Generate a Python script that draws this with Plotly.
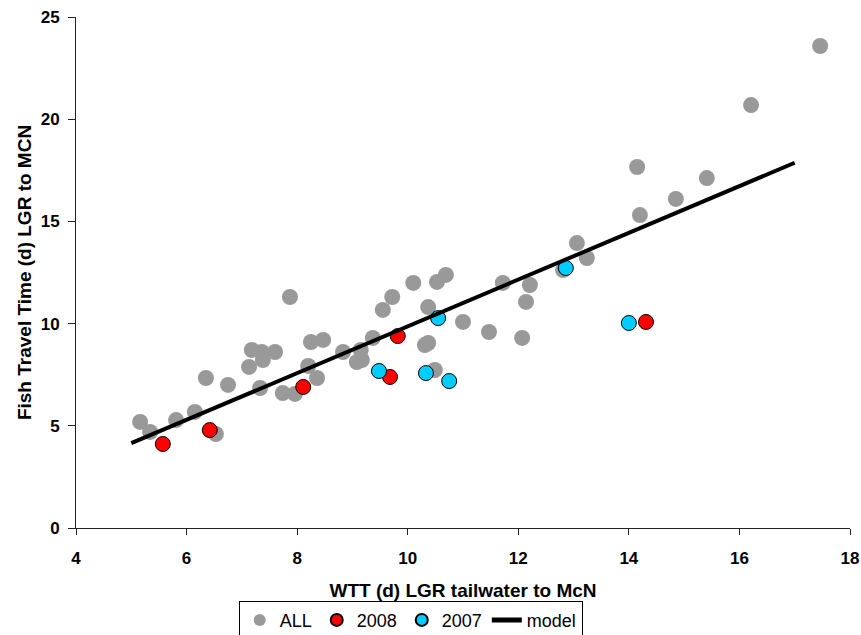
import plotly.graph_objects as go

# ALL observations
all_x = [5.16, 5.34, 5.81, 6.15, 6.35, 6.53, 6.75, 7.18, 7.36, 7.60, 7.38, 7.13, 7.33,
         7.87, 7.74, 7.96, 8.20, 8.36, 8.25, 8.47, 8.83, 9.15, 9.08, 9.17, 9.37, 9.55,
         9.72, 10.10, 10.53, 10.69, 10.37, 11.00, 11.47, 12.07, 11.72, 12.21, 12.14,
         10.31, 10.37, 10.49, 12.81, 13.06, 13.24, 14.20, 14.15, 14.85, 15.41, 16.21, 17.46]
all_y = [5.19, 4.70, 5.28, 5.68, 7.34, 4.60, 7.00, 8.71, 8.61, 8.61, 8.22, 7.88, 6.85,
         11.30, 6.60, 6.56, 7.93, 7.34, 9.10, 9.20, 8.61, 8.71, 8.12, 8.22, 9.30, 10.67,
         11.30, 11.99, 12.04, 12.38, 10.81, 10.08, 9.59, 9.30, 11.99, 11.89, 11.06,
         8.95, 9.05, 7.73, 12.62, 13.94, 13.21, 15.31, 17.66, 16.10, 17.12, 20.69, 23.58]

# 2008
y2008_x = [5.57, 6.42, 8.11, 9.68, 9.82, 14.31]
y2008_y = [4.11, 4.79, 6.90, 7.39, 9.39, 10.08]

# 2007
y2007_x = [9.48, 10.33, 10.75, 10.55, 12.86, 14.00]
y2007_y = [7.68, 7.58, 7.19, 10.27, 12.72, 10.03]

# model
model_x = [5.0, 17.0]
model_y = [4.15, 17.87]

FONT = "Arial, Liberation Sans, sans-serif"

fig = go.Figure()
fig.add_trace(go.Scatter(x=all_x, y=all_y, mode="markers", name="ALL",
                         marker=dict(color="#999999", size=16, line=dict(width=0))))
fig.add_trace(go.Scatter(x=y2008_x, y=y2008_y, mode="markers", name="2008",
                         marker=dict(color="#FF0000", size=15, line=dict(color="black", width=1))))
fig.add_trace(go.Scatter(x=y2007_x, y=y2007_y, mode="markers", name="2007",
                         marker=dict(color="#00CCFF", size=15, line=dict(color="black", width=1))))
fig.add_trace(go.Scatter(x=model_x, y=model_y, mode="lines", name="model",
                         line=dict(color="black", width=4)))

fig.update_layout(
    width=861, height=635,
    margin=dict(l=76, r=11, t=17, b=107, autoexpand=False),
    paper_bgcolor="white", plot_bgcolor="white",
    font=dict(family=FONT, color="black"),
    showlegend=True,
    legend=dict(orientation="h", xref="container", yref="container",
                x=0.477, xanchor="center", y=0.054, yanchor="top",
                bordercolor="black", borderwidth=1, bgcolor="white",
                font=dict(family=FONT, size=18, color="black"),
                itemsizing="constant", tracegroupgap=0, itemwidth=30),
    xaxis=dict(range=[4, 18], dtick=2, tick0=4, showgrid=False, zeroline=False,
               showline=True, linecolor="#222222", linewidth=1,
               ticks="outside", ticklen=6, tickcolor="#222222", ticklabelstandoff=9,
               tickfont=dict(family=FONT, size=17, color="black", weight="bold"),
               title=dict(text="<b>WTT (d) LGR tailwater to McN</b>",
                          font=dict(family=FONT, size=19, color="black"), standoff=16)),
    yaxis=dict(range=[0, 25], dtick=5, showgrid=False, zeroline=False,
               showline=True, linecolor="#222222", linewidth=1,
               ticks="outside", ticklen=7, tickcolor="#222222", ticklabelstandoff=5,
               tickfont=dict(family=FONT, size=17, color="black", weight="bold"),
               title=dict(text="<b>Fish Travel Time (d) LGR to MCN</b>",
                          font=dict(family=FONT, size=19, color="black"), standoff=4)),
)

fig.write_html("out.html")
